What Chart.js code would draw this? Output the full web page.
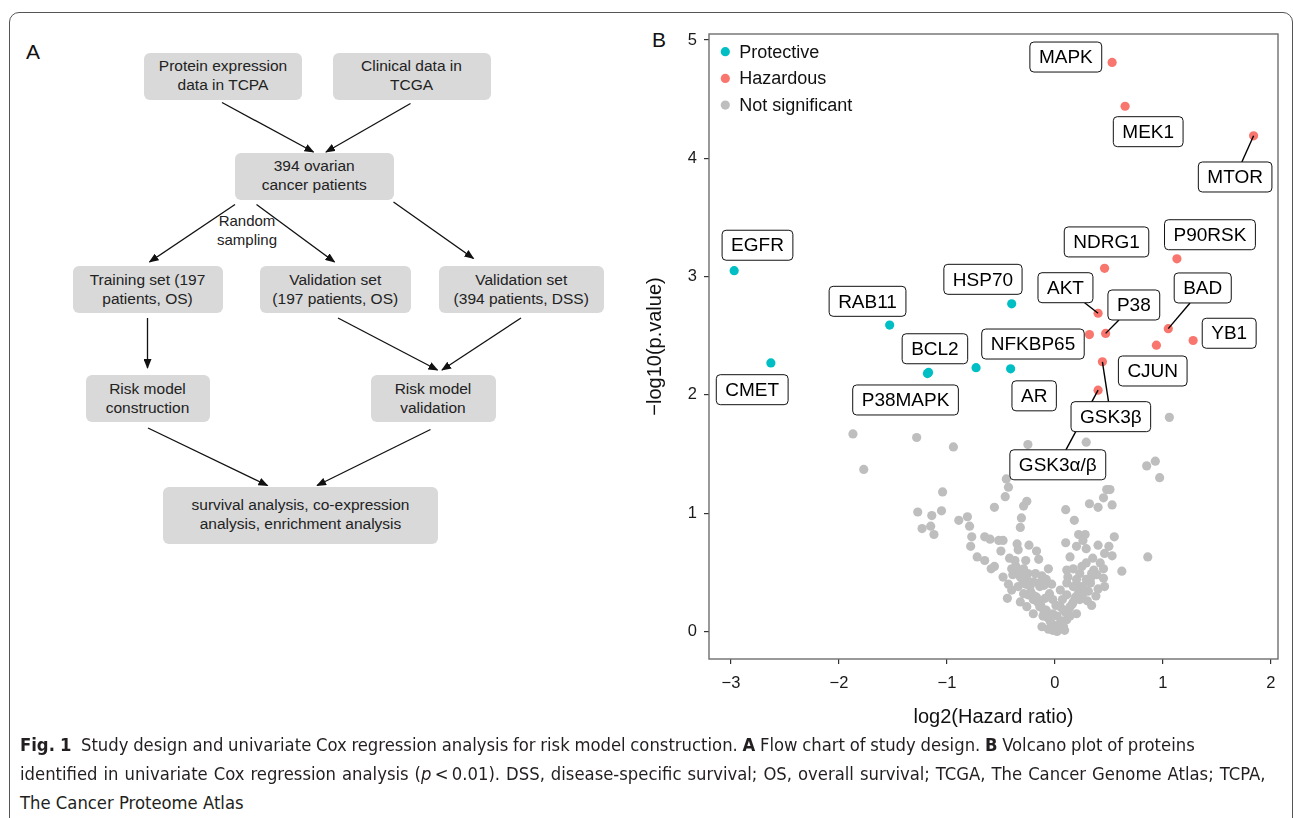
<!DOCTYPE html>
<html>
<head>
<meta charset="utf-8">
<script src="https://cdn.jsdelivr.net/npm/chart.js@4.4.1/dist/chart.umd.min.js"></script>
<style>
  body { margin: 0; background: #fff; }
  #page { position: relative; width: 1293px; height: 818px; overflow: hidden; font-family: "Liberation Sans", Arial, sans-serif; color: #222; }
  #frame { position: absolute; left: 9px; top: 12px; width: 1282px; height: 900px; border: 1px solid #555; border-radius: 10px; }
  .panel-tag { position: absolute; font-size: 21px; color: #111; line-height: 1; }
  .fbox { position: absolute; background: #d9d9d9; border-radius: 6px; display: flex; align-items: center; justify-content: center; text-align: center; font-size: 15.5px; line-height: 18.8px; color: #222; }
  .note { position: absolute; font-size: 15px; line-height: 18.6px; text-align: center; color: #222; }
  #arrows { position: absolute; left: 0; top: 0; }
  #volcano { position: absolute; left: 640px; top: 0; }
  .cap { position: absolute; left: 20px; white-space: nowrap; font-family: "Liberation Sans Narrow", "DejaVu Sans Condensed", "Roboto Condensed", sans-serif; color: #231f20; font-size: 18px; line-height: 29px; }
</style>
</head>
<body>
<div id="page">
  <div id="frame"></div>

  <!-- Panel A: flow chart -->
  <div class="panel-tag" style="left:26px; top:41px;">A</div>
  <svg id="arrows" width="640" height="720">
    <defs>
      <marker id="ah" markerWidth="10" markerHeight="8" refX="9" refY="4" orient="auto" markerUnits="userSpaceOnUse">
        <path d="M0,0 L10,4 L0,8 z" fill="#111"/>
      </marker>
    </defs>
    <g stroke="#111" stroke-width="1.3" marker-end="url(#ah)">
      <line x1="222" y1="102.5" x2="313.5" y2="152"/>
      <line x1="410.5" y1="103.5" x2="326" y2="152"/>
      <line x1="235" y1="204.5" x2="149.5" y2="262"/>
      <line x1="256.5" y1="204.5" x2="334.5" y2="262"/>
      <line x1="393.5" y1="202" x2="473.5" y2="258.5"/>
      <line x1="147.5" y1="318" x2="147.5" y2="368"/>
      <line x1="338" y1="318" x2="437.5" y2="370"/>
      <line x1="521" y1="318" x2="442" y2="370"/>
      <line x1="148" y1="428" x2="267.5" y2="485.5"/>
      <line x1="430.5" y1="429.5" x2="317" y2="485.5"/>
    </g>
  </svg>
  <div class="fbox" style="left:144px; top:52.5px; width:158px; height:47px;">Protein expression<br>data in TCPA</div>
  <div class="fbox" style="left:332.5px; top:52.5px; width:158px; height:47px;">Clinical data in<br>TCGA</div>
  <div class="fbox" style="left:235px; top:152.5px; width:158.5px; height:47px;">394 ovarian<br>cancer patients</div>
  <div class="note" style="left:197px; top:212px; width:100px;">Random<br>sampling</div>
  <div class="fbox" style="left:72.5px; top:266px; width:150px; height:47px;">Training set (197<br>patients, OS)</div>
  <div class="fbox" style="left:260px; top:266px; width:150.5px; height:47px;">Validation set<br>(197 patients, OS)</div>
  <div class="fbox" style="left:438.5px; top:266px; width:165.5px; height:47px;">Validation set<br>(394 patients, DSS)</div>
  <div class="fbox" style="left:85.5px; top:375px; width:124px; height:47px;">Risk model<br>construction</div>
  <div class="fbox" style="left:370.5px; top:375px; width:125px; height:47px;">Risk model<br>validation</div>
  <div class="fbox" style="left:163px; top:486.5px; width:275px; height:57px;">survival analysis, co-expression<br>analysis, enrichment analysis</div>

  <!-- Panel B: volcano plot -->
  <div class="panel-tag" style="left:652px; top:29px;">B</div>
  <canvas id="volcano" width="653" height="735"></canvas>

  <!-- Caption -->
  <div class="cap" id="cap1" style="top:730px;"><b>Fig. 1</b>&nbsp; Study design and univariate Cox regression analysis for risk model construction. <b>A</b> Flow chart of study design. <b>B</b> Volcano plot of proteins</div>
  <div class="cap" id="cap2" style="top:759px;">identified in univariate Cox regression analysis (<i>p</i>&thinsp;&lt;&thinsp;0.01). DSS, disease-specific survival; OS, overall survival; TCGA, The Cancer Genome Atlas; TCPA,</div>
  <div class="cap" id="cap3" style="top:788px;">The Cancer Proteome Atlas</div>
</div>

<script>
// ---- data ----
const protectiveNames = ['EGFR', 'CMET', 'RAB11', 'BCL2', 'P38MAPK', 'HSP70', 'NFKBP65', 'AR'];
const protectiveX = [-2.97, -2.63, -1.53, -1.18, -1.17, -0.40, -0.73, -0.41];
const protectiveY = [3.05, 2.27, 2.59, 2.18, 2.19, 2.77, 2.23, 2.22];

const hazardousNames = ['MAPK', 'MEK1', 'MTOR', 'NDRG1', 'P90RSK', 'AKT', '', 'P38', 'BAD', 'YB1', 'CJUN', 'GSK3β', 'GSK3α/β'];
const hazardousX = [0.53, 0.65, 1.84, 0.46, 1.13, 0.40, 0.32, 0.47, 1.05, 1.28, 0.94, 0.44, 0.40];
const hazardousY = [4.81, 4.44, 4.19, 3.07, 3.15, 2.69, 2.51, 2.52, 2.56, 2.46, 2.42, 2.28, 2.04];

const otherX = [
  -1.87, -1.28, -0.94, -0.25, 0.29, -1.77, 0.85, 0.93, 0.97, 1.06,
  -0.43, -0.45, 0.48, 0.45, 0.51, 0.53, 0.32, 0.40, -1.04, -0.46,
  -0.56, -0.29, -0.26, 0.10, 0.18, -1.27, -1.14, -1.05, -1.23, -1.15,
  -1.12, -0.89, -0.81, -0.79, -0.31, -0.32, -0.77, -0.78, -0.65, -0.60,
  -0.52, -0.48, -0.35, -0.34, -0.24, -0.17, -0.15, 0.10, 0.22, 0.28,
  0.26, 0.20, 0.29, 0.40, 0.46, 0.53, 0.86, -0.72, -0.65, -0.59,
  -0.48, -0.40, -0.39, -0.32, -0.27, -0.29, -0.25, -0.18, -0.06, -0.10,
  -0.15, 0.11, 0.14, 0.11, 0.17, 0.23, 0.29, 0.34, 0.23, 0.31,
  0.45, 0.62, 0.46, 0.40, -0.44, -0.32, -0.40, -0.29, -0.17, 0.11,
  0.17, 0.23, 0.34, -0.12, -0.05, -0.02, 0.02, 0.05, 0.08, 0.11,
  0.14, 0.20, -0.08, -0.14, -0.20, -0.02, -0.37, -0.26, -0.23, -0.14,
  -0.08, -0.05, -0.02, 0.05, -0.20, -0.26, -0.11, 0.02, 0.08, 0.26,
  0.33, 0.17, 0.39, 0.14,
  -0.36, -0.33, -0.30, -0.27, -0.22, -0.19, -0.16, -0.13, -0.10, -0.07,
  -0.04, 0.00, 0.03, 0.06, 0.10, 0.13, 0.16, 0.19, 0.22, 0.26,
  0.29, 0.33, 0.36, 0.42, -0.42, -0.50, -0.56, -0.20, -0.12, -0.03,
  0.05, 0.12, 0.20, 0.25, 0.35, -0.09, 0.01, 0.07, 0.09, -0.06,
  -0.25, 0.30, 0.38, -0.34, -0.43, 0.45, 0.50, 0.55
];
const otherY = [
  1.67, 1.64, 1.56, 1.58, 1.60, 1.37, 1.40, 1.44, 1.30, 1.81,
  1.22, 1.29, 1.20, 1.13, 1.20, 1.07, 1.08, 1.05, 1.18, 1.14,
  1.05, 1.06, 1.10, 1.03, 0.94, 1.01, 0.98, 1.02, 0.87, 0.89,
  0.82, 0.94, 0.97, 0.89, 0.96, 0.88, 0.80, 0.72, 0.80, 0.78,
  0.77, 0.77, 0.74, 0.69, 0.73, 0.68, 0.61, 0.75, 0.82, 0.82,
  0.77, 0.72, 0.70, 0.73, 0.66, 0.64, 0.63, 0.63, 0.60, 0.53,
  0.46, 0.53, 0.48, 0.46, 0.60, 0.53, 0.49, 0.49, 0.53, 0.39,
  0.41, 0.41, 0.63, 0.52, 0.53, 0.49, 0.58, 0.49, 0.38, 0.34,
  0.53, 0.51, 0.38, 0.36, 0.28, 0.25, 0.35, 0.32, 0.29, 0.31,
  0.25, 0.27, 0.22, 0.04, 0.10, 0.01, 0.00, 0.07, 0.04, 0.10,
  0.13, 0.15, 0.18, 0.21, 0.15, 0.15, 0.60, 0.44, 0.38, 0.38,
  0.44, 0.32, 0.27, 0.21, 0.27, 0.21, 0.13, 0.13, 0.18, 0.32,
  0.41, 0.38, 0.48, 0.21,
  0.55, 0.50, 0.44, 0.40, 0.33, 0.30, 0.25, 0.22, 0.17, 0.12,
  0.08, 0.05, 0.03, 0.09, 0.16, 0.19, 0.23, 0.29, 0.33, 0.38,
  0.44, 0.45, 0.52, 0.58, 0.62, 0.68, 0.55, 0.42, 0.47, 0.40,
  0.35, 0.46, 0.44, 0.55, 0.62, 0.28, 0.22, 0.27, 0.01, 0.02,
  0.31, 0.26, 0.30, 0.38, 0.40, 0.45, 0.72, 0.80
];

const xTicks = [-3, -2, -1, 0, 1, 2];
const yTicks = [0, 1, 2, 3, 4, 5];

// label placement (box centres, data units) - ggrepel style
const labelPlace = {
  'EGFR': [-2.754, 3.265], 'CMET': [-2.803, 2.044], 'RAB11': [-1.735, 2.791],
  'BCL2': [-1.111, 2.390], 'P38MAPK': [-1.383, 1.957], 'HSP70': [-0.666, 2.977],
  'NFKBP65': [-0.203, 2.430], 'AR': [-0.192, 1.992],
  'MAPK': [0.101, 4.856], 'MEK1': [0.864, 4.225], 'MTOR': [1.669, 3.842],
  'NDRG1': [0.478, 3.293], 'P90RSK': [1.436, 3.354], 'AKT': [0.098, 2.906],
  'P38': [0.731, 2.760], 'BAD': [1.369, 2.904], 'YB1': [1.614, 2.521],
  'CJUN': [0.906, 2.202], 'GSK3β': [0.518, 1.816], 'GSK3α/β': [0.027, 1.409]
};
const leaderLabels = ['MTOR', 'AKT', 'P38', 'BAD', 'GSK3β', 'GSK3α/β'];

const COLORS = { protective: '#00BFC4', hazardous: '#F8766D', other: '#BEBEBE' };

const toPts = (xs, ys) => xs.map((v, i) => ({ x: v, y: ys[i] }));

// draws panel border, in-plot legend and the boxed gene labels
const panelPlugin = {
  id: 'panel',
  afterDatasetsDraw(chart) {
    const { ctx, chartArea: a, scales: { x, y } } = chart;
    ctx.save();

    // leader segments + label boxes
    const items = [];
    protectiveNames.forEach((n, i) => items.push([n, protectiveX[i], protectiveY[i]]));
    hazardousNames.forEach((n, i) => items.push([n, hazardousX[i], hazardousY[i]]));
    ctx.font = '19px "Liberation Sans", Arial, sans-serif';
    const boxes = items.filter(it => it[0] && labelPlace[it[0]]).map(([n, px, py]) => {
      const cx = x.getPixelForValue(labelPlace[n][0]);
      const cy = y.getPixelForValue(labelPlace[n][1]);
      const w = ctx.measureText(n).width + 18, h = 30;
      return { n, cx, cy, w, h, px: x.getPixelForValue(px), py: y.getPixelForValue(py) };
    });
    ctx.strokeStyle = '#000';
    ctx.lineWidth = 1.4;
    boxes.forEach(b => {
      if (!leaderLabels.includes(b.n)) return;
      const dx = b.cx - b.px, dy = b.cy - b.py;
      const tx = dx !== 0 ? (Math.abs(dx) - b.w / 2) / Math.abs(dx) : Infinity;
      const ty = dy !== 0 ? (Math.abs(dy) - b.h / 2) / Math.abs(dy) : Infinity;
      const t = Math.max(Math.min(tx, ty), tx < 0 ? ty : (ty < 0 ? tx : Math.max(tx, ty)));
      ctx.beginPath();
      ctx.moveTo(b.px, b.py);
      ctx.lineTo(b.px + dx * t, b.py + dy * t);
      ctx.stroke();
    });
    ctx.lineWidth = 1;
    ctx.textAlign = 'center';
    ctx.textBaseline = 'middle';
    boxes.forEach(b => {
      ctx.beginPath();
      ctx.roundRect(b.cx - b.w / 2, b.cy - b.h / 2, b.w, b.h, 4);
      ctx.fillStyle = '#fff';
      ctx.fill();
      ctx.strokeStyle = '#111';
      ctx.stroke();
      ctx.fillStyle = '#000';
      ctx.fillText(b.n, b.cx, b.cy + 1);
    });

    // legend
    const leg = [['Protective', COLORS.protective], ['Hazardous', COLORS.hazardous], ['Not significant', COLORS.other]];
    ctx.font = '18px "Liberation Sans", Arial, sans-serif';
    ctx.textAlign = 'left';
    leg.forEach(([t, c], i) => {
      const ly = a.top + 17.7 + i * 26.7;
      ctx.beginPath();
      ctx.arc(a.left + 16.3, ly, 4.6, 0, Math.PI * 2);
      ctx.fillStyle = c;
      ctx.fill();
      ctx.fillStyle = '#111';
      ctx.fillText(t, a.left + 30.3, ly + 1);
    });

    // panel border
    ctx.strokeStyle = '#6e6e6e';
    ctx.lineWidth = 1.4;
    ctx.strokeRect(a.left, a.top, a.right - a.left, a.bottom - a.top);
    ctx.restore();
  }
};

const minusFmt = v => (v < 0 ? '\u2212' + Math.abs(v) : String(v));
const tickFont = { family: '"Liberation Sans", Arial, sans-serif', size: 16.5 };
const titleFont = { family: '"Liberation Sans", Arial, sans-serif', size: 20 };
const axisGrid = { display: true, drawOnChartArea: false, drawTicks: true, tickLength: 5, color: '#333', lineWidth: 1.2 };

new Chart(document.getElementById('volcano'), {
  type: 'scatter',
  data: {
    datasets: [
      { label: 'Protective', data: toPts(protectiveX, protectiveY), backgroundColor: COLORS.protective, pointRadius: 4.6, pointBorderWidth: 0, order: 1 },
      { label: 'Hazardous', data: toPts(hazardousX, hazardousY), backgroundColor: COLORS.hazardous, pointRadius: 4.6, pointBorderWidth: 0, order: 1 },
      { label: 'Not significant', data: toPts(otherX, otherY), backgroundColor: COLORS.other, pointRadius: 4.6, pointBorderWidth: 0, order: 2 }
    ]
  },
  options: {
    responsive: false,
    animation: false,
    events: [],
    layout: { padding: { top: 34, right: 15, left: 0, bottom: 0 } },
    plugins: { legend: { display: false }, tooltip: { enabled: false } },
    scales: {
      x: {
        type: 'linear', min: -3.203, max: 2.066,
        afterFit: s => { s.height = 76; },
        afterBuildTicks: s => { s.ticks = xTicks.map(v => ({ value: v })); },
        ticks: { font: tickFont, color: '#1a1a1a', padding: 10, callback: minusFmt, maxRotation: 0 },
        grid: axisGrid,
        border: { display: false },
        title: { display: true, text: 'log2(Hazard ratio)', font: titleFont, color: '#111', padding: { bottom: 6, top: 0 } }
      },
      y: {
        type: 'linear', min: -0.2325, max: 5.0507,
        afterFit: s => { s.width = 69; },
        afterBuildTicks: s => { s.ticks = yTicks.map(v => ({ value: v })); },
        ticks: { font: tickFont, color: '#1a1a1a', padding: 7, callback: minusFmt },
        grid: axisGrid,
        border: { display: false },
        title: { display: true, text: '\u2212log10(p.value)', font: titleFont, color: '#111', padding: { top: 3, bottom: 0 } }
      }
    }
  },
  plugins: [panelPlugin]
});

// fit caption lines to the reference line widths
(function fitCaption() {
  const l1 = document.getElementById('cap1'), l2 = document.getElementById('cap2');
  const s1 = 1175 / l1.scrollWidth, s2 = 1245 / l2.scrollWidth;
  const size = 18 * (s1 + s2) / 2;
  document.querySelectorAll('.cap').forEach(el => { el.style.fontSize = size.toFixed(2) + 'px'; });
  // spread words so each full line ends where the reference line ends
  [[l1, 1175], [l2, 1245]].forEach(([el, target]) => {
    const gaps = (el.textContent.match(/ /g) || []).length;
    const diff = target - el.scrollWidth;
    if (gaps) el.style.wordSpacing = (diff / gaps).toFixed(3) + 'px';
  });
})();
</script>
</body>
</html>
